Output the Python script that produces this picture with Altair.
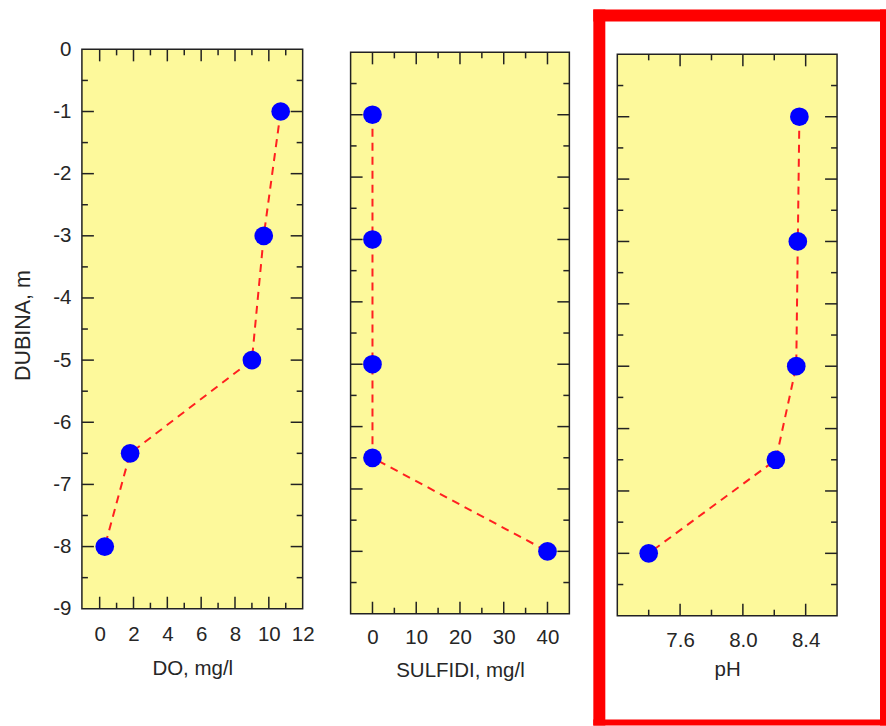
import altair as alt
import pandas as pd

# ---- data ----
depth = [-1, -3, -5, -6.5, -8]
do_vals = [10.7, 9.7, 9.0, 1.8, 0.3]
sulfidi_vals = [0, 0, 0, 0, 40]
ph_vals = [8.36, 8.35, 8.34, 8.21, 7.40]

y_labels = [0, -1, -2, -3, -4, -5, -6, -7, -8, -9]
y_major = [-1, -2, -3, -4, -5, -6, -7, -8]
y_minor = [-0.5, -1.5, -2.5, -3.5, -4.5, -5.5, -6.5, -7.5, -8.5]

do_labels = [0, 2, 4, 6, 8, 10, 12]
do_major = [0, 2, 4, 6, 8, 10]
do_minor = [1, 3, 5, 7, 9, 11]

sul_labels = [0, 10, 20, 30, 40]
sul_major = [0, 10, 20, 30, 40]
sul_minor = [5, 15, 25, 35]

ph_labels = [7.6, 8.0, 8.4]
ph_major = [7.6, 8.0, 8.4]
ph_minor = [7.4, 7.8, 8.2]

FONT = "Liberation Sans"
TXT = "#262626"
TICK = "#222222"
YEL = "#FDF99B"
RED_LINE = "#FF2020"
BLUE = "#0000FF"
H = 567
MAJ = 12
MIN = 6


def panel(vals, xdomain, ydomain, width, xmajor, xminor, xlabels, xtitle,
          xfmt, lab_pad, title_pad, show_y, extra=None):
    xs = alt.Scale(domain=xdomain, nice=False, zero=False)
    ys = alt.Scale(domain=ydomain, nice=False, zero=False)
    one = alt.Data(values=[{"k": 0}])
    df = pd.DataFrame({"val": vals, "depth": depth})

    xaxis_kw = dict(values=xlabels, title=xtitle, ticks=False, tickSize=0, domain=False,
                    grid=False, labelPadding=lab_pad, titlePadding=title_pad,
                    labelFlush=False, labelOverlap=False, labelFontSize=20.5,
                    titleFontSize=20.5, titleFontWeight="normal", labelFont=FONT,
                    titleFont=FONT, labelColor=TXT, titleColor=TXT)
    if xfmt:
        xaxis_kw["format"] = xfmt
    xaxis = alt.Axis(**xaxis_kw)
    if show_y:
        yaxis = alt.Axis(values=y_labels, title="DUBINA, m", ticks=False, tickSize=0,
                         domain=False, grid=False, labelPadding=11, titlePadding=18,
                         titleY=276,
                         labelExpr="toString(datum.value)",
                         labelFontSize=20.5, titleFontSize=21.5, titleFontWeight="normal",
                         labelFont=FONT, titleFont=FONT, labelColor=TXT, titleColor=TXT)
    else:
        yaxis = None

    frame = alt.Chart(one).mark_rect(fill=YEL, stroke=TICK, strokeWidth=1.5).encode(
        x=alt.XDatum(xdomain[0], scale=xs, axis=xaxis),
        x2=alt.X2Datum(xdomain[1]),
        y=alt.YDatum(0, scale=ys, axis=yaxis),
        y2=alt.Y2Datum(-9),
    )

    layers = [frame]
    # y ticks (left and right, pointing inward)
    for vals_t, ln in ((y_major, MAJ), (y_minor, MIN)):
        d = pd.DataFrame({"v": vals_t})
        layers.append(alt.Chart(d).mark_rule(color=TICK, strokeWidth=1.5).encode(
            y=alt.Y("v:Q", scale=ys, axis=yaxis), x=alt.value(0), x2=alt.value(ln)))
        layers.append(alt.Chart(d).mark_rule(color=TICK, strokeWidth=1.5).encode(
            y=alt.Y("v:Q", scale=ys, axis=yaxis), x=alt.value(width), x2=alt.value(width - ln)))
    # x ticks (bottom and top, pointing inward)
    for vals_t, ln in ((xmajor, MAJ), (xminor, MIN)):
        d = pd.DataFrame({"v": vals_t})
        layers.append(alt.Chart(d).mark_rule(color=TICK, strokeWidth=1.5, y2Offset=-ln).encode(
            x=alt.X("v:Q", scale=xs, axis=xaxis),
            y=alt.YDatum(-9, scale=ys, axis=yaxis), y2=alt.Y2Datum(-9)))
        layers.append(alt.Chart(d).mark_rule(color=TICK, strokeWidth=1.5, y2Offset=ln).encode(
            x=alt.X("v:Q", scale=xs, axis=xaxis),
            y=alt.YDatum(0, scale=ys, axis=yaxis), y2=alt.Y2Datum(0)))

    line = alt.Chart(df).mark_line(color=RED_LINE, strokeWidth=2, strokeDash=[8, 6]).encode(
        x=alt.X("val:Q", scale=xs, axis=xaxis),
        y=alt.Y("depth:Q", scale=ys, axis=yaxis),
        order=alt.Order("depth:Q", sort="descending"),
    )
    layers.append(line)

    points = alt.Chart(df).mark_circle(size=350, color=BLUE, opacity=1).encode(
        x=alt.X("val:Q", scale=xs, axis=xaxis),
        y=alt.Y("depth:Q", scale=ys, axis=yaxis),
    )
    layers.append(points)
    if extra:
        layers.extend(extra)
    return alt.layer(*layers).properties(width=width, height=H)


one = alt.Data(values=[{"k": 0}])
RED = "#FF0000"
red_frame = [
    alt.Chart(one).mark_rect(color=RED).encode(
        x=alt.value(-24), x2=alt.value(-12), y=alt.value(-40), y2=alt.value(677)),
    alt.Chart(one).mark_rect(color=RED).encode(
        x=alt.value(-24), x2=alt.value(269), y=alt.value(-40), y2=alt.value(-28)),
    alt.Chart(one).mark_rect(color=RED).encode(
        x=alt.value(263), x2=alt.value(269), y=alt.value(-40), y2=alt.value(677)),
    alt.Chart(one).mark_rect(color=RED).encode(
        x=alt.value(-24), x2=alt.value(269), y=alt.value(671), y2=alt.value(677)),
]

p1 = panel(do_vals, [-1.05, 12], [-9.1125, 0], 221, do_major, do_minor, do_labels,
           "DO, mg/l", None, 8.5, 14, True)
p2 = panel(sulfidi_vals, [-5, 45], [-9.032, 0.048], 219, sul_major, sul_minor, sul_labels,
           "SULFIDI, mg/l", None, 11.5, 12.5, False)
p3 = panel(ph_vals, [7.2, 8.6], [-9.0, 0.080], 220, ph_major, ph_minor, ph_labels,
           "pH", ".1f", 14.5, 9, False, extra=red_frame)

chart = alt.hconcat(p1, p2, p3, spacing=48, bounds="flush").properties(
    padding={"left": 12, "top": 9, "right": 0, "bottom": 0},
    background="white",
).configure_view(stroke=None)

chart.save("out.html", embed_options={"renderer": "svg", "actions": False})
